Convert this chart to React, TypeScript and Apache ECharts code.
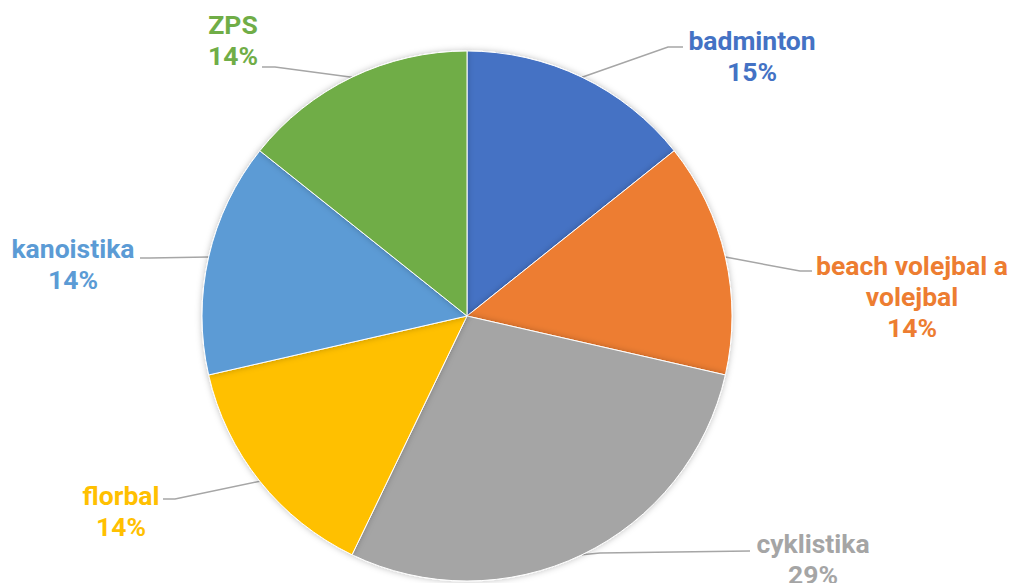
import React, { useEffect, useRef } from "react";
import * as echarts from "echarts";

const categories = ["badminton", "beach volejbal a volejbal", "cyklistika", "florbal", "kanoistika", "ZPS"];
const values = [1, 1, 2, 1, 1, 1];
const colors = ["#4472C4", "#ED7D31", "#A5A5A5", "#FFC000", "#5B9BD5", "#70AD47"];
const labelNames = ["badminton", "beach volejbal a\nvolejbal", "cyklistika", "florbal", "kanoistika", "ZPS"];

// label anchor (center) and line elbow/end points
const labelPos = [
  { x: 752, y: 56, elbow: [668, 47], end: [683, 47] },
  { x: 912, y: 296, elbow: [800, 271], end: [812, 271] },
  { x: 813, y: 559, elbow: [600, 553], end: [750, 551] },
  { x: 121, y: 511, elbow: [175, 499], end: [163, 499] },
  { x: 73, y: 264, elbow: [150, 258], end: [140, 258] },
  { x: 233, y: 40, elbow: [275, 67], end: [262, 67] },
];

export default function App() {
  const ref = useRef<HTMLDivElement>(null);
  useEffect(() => {
    document.body.style.margin = "0";
    const chart = echarts.init(ref.current!, undefined, { renderer: "svg" });
    chart.setOption({
      animation: false,
      color: colors,
      series: [
        {
          type: "pie",
          center: [467, 316],
          radius: 265,
          startAngle: 90,
          clockwise: true,
          percentPrecision: 0,
          avoidLabelOverlap: false,
          itemStyle: {
            borderColor: "#fff",
            borderWidth: 1,
            shadowBlur: 6,
            shadowColor: "rgba(0,0,0,0.25)",
          },
          data: categories.map((c, i) => ({
            name: c,
            value: values[i],
            label: { color: colors[i] },
          })),
          label: {
            show: true,
            position: "outside",
            fontFamily: "Roboto",
            fontWeight: "bold",
            fontSize: 26.5,
            lineHeight: 31,
            align: "center",
            formatter: (p: any) => `${labelNames[p.dataIndex]}\n${p.percent}%`,
          },
          labelLine: {
            show: true,
            length: 20,
            length2: 20,
            lineStyle: { color: "#A6A6A6", width: 1.5 },
          },
          labelLayout: (p: any) => {
            const lp = labelPos[p.dataIndex];
            const start = p.labelLinePoints ? p.labelLinePoints[0] : lp.elbow;
            return {
              x: lp.x,
              y: lp.y,
              align: "center",
              verticalAlign: "middle",
              labelLinePoints: [start, lp.elbow, lp.end],
            };
          },
        },
      ],
    });
    return () => chart.dispose();
  }, []);
  return <div ref={ref} style={{ width: 1012, height: 583 }} />;
}
